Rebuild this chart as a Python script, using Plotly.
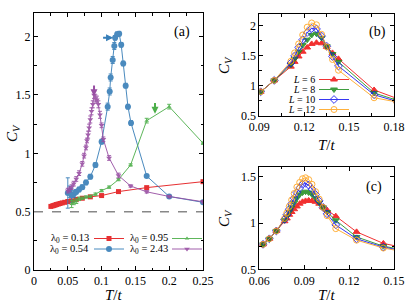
import plotly.graph_objects as go

# ---------------- Panel (a) data ----------------
T_red_a = [0.0250, 0.0278, 0.0294, 0.0313, 0.0333, 0.0357, 0.0385, 0.0417, 0.0455, 0.0500,
           0.0556, 0.0625, 0.0714, 0.0833, 0.1000, 0.1250, 0.1667, 0.2500]
C_red_a = [0.545, 0.550, 0.553, 0.557, 0.561, 0.565, 0.570, 0.575, 0.580, 0.587,
           0.593, 0.605, 0.615, 0.627, 0.638, 0.672, 0.706, 0.757]
E_red_a = [0.005] * 18

T_blue_a = [0.0500, 0.0526, 0.0556, 0.0588, 0.0625, 0.0667, 0.0714, 0.0769, 0.0833, 0.0909,
            0.1000, 0.1090, 0.1120, 0.1134, 0.1164, 0.1188, 0.1200, 0.1230, 0.1260, 0.1290,
            0.1320, 0.1356, 0.1390, 0.1435, 0.1667, 0.2000, 0.2500]
C_blue_a = [0.66, 0.67, 0.64, 0.65, 0.67, 0.69, 0.71, 0.75, 0.80, 0.90,
            1.10, 1.40, 1.53, 1.65, 1.80, 1.92, 1.99, 2.02, 2.025, 1.93,
            1.77, 1.58, 1.40, 1.26, 0.805, 0.63, 0.58]
E_blue_a = [0.13, 0.05, 0.06, 0.03, 0.02, 0.02, 0.02, 0.02, 0.02, 0.02,
            0.02, 0.03, 0.03, 0.03, 0.03, 0.03, 0.02, 0.02, 0.02, 0.02,
            0.02, 0.02, 0.02, 0.02, 0.01, 0.01, 0.01]

T_green_a = [0.0556, 0.0588, 0.0625, 0.0667, 0.0714, 0.0769, 0.0833, 0.0909, 0.1000, 0.1111,
             0.1250, 0.1429, 0.1667, 0.2000, 0.2500]
C_green_a = [0.565, 0.58, 0.59, 0.61, 0.615, 0.625, 0.63, 0.65, 0.68, 0.71,
             0.775, 0.90, 1.28, 1.40, 1.087]
E_green_a = [0.03, 0.02, 0.02, 0.015, 0.01, 0.01, 0.01, 0.01, 0.01, 0.01,
             0.01, 0.01, 0.02, 0.02, 0.01]

T_purple_a = [0.0500, 0.0526, 0.0556, 0.0588, 0.0625, 0.0667, 0.0714, 0.0741, 0.0769, 0.0784,
              0.0800, 0.0816, 0.0833, 0.0851, 0.0870, 0.0889, 0.0909, 0.0930, 0.0952, 0.0976,
              0.1000, 0.1026, 0.1111, 0.1250, 0.1429, 0.1667, 0.2000, 0.2500]
C_purple_a = [0.68, 0.69, 0.71, 0.74, 0.78, 0.83, 0.91, 0.98, 1.05, 1.11,
              1.16, 1.22, 1.29, 1.36, 1.42, 1.50, 1.47, 1.46, 1.42, 1.33,
              1.24, 1.12, 0.96, 0.81, 0.72, 0.67, 0.63, 0.585]
E_purple_a = [0.02, 0.02, 0.02, 0.02, 0.02, 0.02, 0.02, 0.02, 0.02, 0.02,
              0.03, 0.03, 0.03, 0.03, 0.03, 0.03, 0.03, 0.03, 0.03, 0.03,
              0.02, 0.02, 0.02, 0.02, 0.01, 0.01, 0.01, 0.01]

labels_a = ["λ<sub>0</sub> = 0.13", "λ<sub>0</sub> = 0.54", "λ<sub>0</sub> = 0.95", "λ<sub>0</sub> = 2.43"]
baseline_value = 0.5

# arrows in panel (a): (tip T, tip C, tail T, tail C)
arrow_blue = (0.117, 1.99, 0.100, 1.99)
arrow_purple = (0.0888, 1.49, 0.0888, 1.595)
arrow_green = (0.179, 1.34, 0.179, 1.445)

# ---------------- Panel (b) data ----------------
T_b = [0.0909, 0.1000, 0.1111, 0.1136, 0.1163, 0.1190, 0.1220, 0.1250, 0.1282, 0.1316,
       0.1351, 0.1389, 0.1429, 0.1667, 0.1818]
C_b_L6 = [0.90, 1.09, 1.32, 1.40, 1.49, 1.57, 1.64, 1.70, 1.72, 1.71, 1.65, 1.55, 1.45, 0.93, 0.79]
C_b_L8 = [0.90, 1.09, 1.35, 1.45, 1.57, 1.68, 1.77, 1.85, 1.87, 1.80, 1.66, 1.53, 1.40, 0.88, 0.76]
C_b_L10 = [0.90, 1.09, 1.38, 1.50, 1.64, 1.77, 1.89, 1.96, 1.95, 1.83, 1.66, 1.49, 1.33, 0.85, 0.74]
C_b_L12 = [0.90, 1.09, 1.41, 1.55, 1.70, 1.85, 1.98, 2.05, 2.02, 1.86, 1.65, 1.44, 1.26, 0.80, 0.73]

# ---------------- Panel (c) data ----------------
T_c = [0.0625, 0.0667, 0.0714, 0.0769, 0.0784, 0.0800, 0.0816, 0.0833, 0.0851, 0.0870, 0.0889,
       0.0909, 0.0930, 0.0952, 0.0976, 0.1000, 0.1026, 0.1053, 0.1111, 0.1250, 0.1429, 0.1667]
C_c_L6 = [0.77, 0.83, 0.915, 1.02, 1.05, 1.09, 1.12, 1.15, 1.18, 1.21, 1.23,
          1.24, 1.245, 1.24, 1.23, 1.21, 1.17, 1.14, 1.075, 0.905, 0.78, 0.70]
C_c_L8 = [0.77, 0.83, 0.915, 1.03, 1.07, 1.12, 1.17, 1.22, 1.27, 1.31, 1.33,
          1.34, 1.33, 1.31, 1.27, 1.22, 1.17, 1.12, 1.03, 0.85, 0.75, 0.68]
C_c_L10 = [0.77, 0.83, 0.915, 1.04, 1.09, 1.15, 1.21, 1.27, 1.33, 1.38, 1.42,
           1.43, 1.41, 1.37, 1.31, 1.24, 1.17, 1.10, 0.98, 0.83, 0.74, 0.67]
C_c_L12 = [0.77, 0.83, 0.915, 1.05, 1.11, 1.18, 1.25, 1.32, 1.39, 1.44, 1.48,
           1.49, 1.47, 1.42, 1.34, 1.26, 1.17, 1.08, 0.94, 0.815, 0.73, 0.66]

labels_L = ["<i>L</i> = 6", "<i>L</i> = 8", "<i>L</i> = 10", "<i>L</i> = 12"]

# ---------------- styles ----------------
FONT = "Liberation Serif, DejaVu Serif, serif"
W, H = 415, 307
col_a = ["#e41a1c", "#377eb8", "#4daf4a", "#984ea3"]
sym_a = ["square", "circle", "triangle-up", "triangle-down"]
size_a = [5, 6, 4, 5]
col_L = ["#f01010", "#1e8c1e", "#1515f0", "#ffa319"]
sym_L = ["triangle-up", "triangle-down", "diamond-open-dot", "circle-open"]

fig = go.Figure()

# legend slots: (legend id, legend-box left px, label right-edge px, row-center px y)
leg_slots_a = [("legend", 89, 91, 238.5), ("legend2", 89, 91, 249),
               ("legend3", 167, 170, 238.5), ("legend4", 167, 170, 249)]
leg_slots_b = [("legend5", 314, 317, 79.5), ("legend6", 314, 317, 89.5),
               ("legend7", 314, 317, 99.5), ("legend8", 314, 317, 109.5)]

series_a = [(T_red_a, C_red_a, E_red_a), (T_blue_a, C_blue_a, E_blue_a),
            (T_green_a, C_green_a, E_green_a), (T_purple_a, C_purple_a, E_purple_a)]
for i, (tx, cy, ee) in enumerate(series_a):
    fig.add_trace(go.Scatter(
        x=tx, y=cy, mode="lines+markers", name=" ", legend=leg_slots_a[i][0],
        line=dict(color=col_a[i], width=1),
        marker=dict(symbol=sym_a[i], size=size_a[i], color=col_a[i]),
        error_y=dict(type="data", array=ee, color=col_a[i], thickness=1, width=2),
        xaxis="x", yaxis="y", opacity=0.9))

series_b = [C_b_L6, C_b_L8, C_b_L10, C_b_L12]
series_c = [C_c_L6, C_c_L8, C_c_L10, C_c_L12]
for i in range(4):
    fig.add_trace(go.Scatter(
        x=T_b, y=series_b[i], mode="lines+markers", name=" ", legend=leg_slots_b[i][0],
        line=dict(color=col_L[i], width=1),
        marker=dict(symbol=sym_L[i], size=6, color=col_L[i], line=dict(color=col_L[i], width=1)),
        xaxis="x2", yaxis="y2", opacity=0.85))
for i in range(4):
    fig.add_trace(go.Scatter(
        x=T_c, y=series_c[i], mode="lines+markers", showlegend=False,
        line=dict(color=col_L[i], width=1),
        marker=dict(symbol=sym_L[i], size=6, color=col_L[i], line=dict(color=col_L[i], width=1)),
        xaxis="x3", yaxis="y3", opacity=0.85))

# reference line
fig.add_shape(type="line", xref="x domain", yref="y", x0=0, x1=1, y0=baseline_value, y1=baseline_value,
              line=dict(color="#888888", width=1.5, dash="dash"))

def axstyle(**kw):
    d = dict(showline=True, linecolor="black", linewidth=1, mirror="allticks", ticks="inside",
             ticklen=4, tickcolor="black", showgrid=False, zeroline=False,
             tickfont=dict(family=FONT, size=12, color="black"), automargin=False)
    d.update(kw)
    return d

def minor(dt, t0):
    return dict(dtick=dt, tick0=t0, ticks="inside", ticklen=2.5, tickcolor="black", showgrid=False)

fig.update_layout(
    width=W, height=H, margin=dict(l=0, r=0, t=0, b=0),
    paper_bgcolor="white", plot_bgcolor="white",
    font=dict(family=FONT, size=12, color="black"),
    xaxis=axstyle(domain=[34/W, 203/W], range=[0, 0.25], anchor="y",
                  tickvals=[0, 0.05, 0.1, 0.15, 0.2, 0.25], ticktext=["0", "0.05", "0.1", "0.15", "0.2", "0.25"],
                  minor=minor(0.025, 0)),
    yaxis=axstyle(domain=[1-270/H, 1-13.3/H], range=[0, 2.2], anchor="x",
                  tickvals=[0, 0.5, 1, 1.5, 2], ticktext=["0", "0.5", "1", "1.5", "2"],
                  minor=minor(0.25, 0)),
    xaxis2=axstyle(domain=[259.3/W, 394/W], range=[0.09, 0.18], anchor="y2",
                   tickvals=[0.09, 0.12, 0.15, 0.18], ticktext=["0.09", "0.12", "0.15", "0.18"],
                   minor=minor(0.015, 0.09)),
    yaxis2=axstyle(domain=[1-115.7/H, 1-14/H], range=[0.5, 2.2], anchor="x2",
                   tickvals=[0.5, 1, 1.5, 2], ticktext=["0.5", "1", "1.5", "2"],
                   minor=minor(0.25, 0.5)),
    xaxis3=axstyle(domain=[259.3/W, 394/W], range=[0.06, 0.15], anchor="y3",
                   tickvals=[0.06, 0.09, 0.12, 0.15], ticktext=["0.06", "0.09", "0.12", "0.15"],
                   minor=minor(0.015, 0.06)),
    yaxis3=axstyle(domain=[1-269.3/H, 1-166.7/H], range=[0.5, 1.61], anchor="x3",
                   tickvals=[0.5, 1, 1.5], ticktext=["0.5", "1", "1.5"],
                   minor=minor(0.25, 0.5)),
)

# legends, one per entry (positioned precisely)
for lid, left, tr, cy in leg_slots_a + leg_slots_b:
    fig.update_layout({lid: dict(x=left / W, y=1 - (cy - 14.5) / H, xanchor="left", yanchor="top",
                                 bgcolor="rgba(0,0,0,0)", borderwidth=0, itemwidth=30,
                                 font=dict(family=FONT, size=10))})

ann = []
def txt(x, y, s, size=12, xanchor="center", angle=0):
    ann.append(dict(x=x / W, y=1 - y / H, xref="paper", yref="paper", text=s, showarrow=False,
                    xanchor=xanchor, yanchor="middle", textangle=angle,
                    font=dict(family=FONT, size=size, color="black")))

# axis titles
txt(114, 295, "<i>T</i>/<i>t</i>", 15)
txt(13, 133, "<i>C<sub>V</sub></i>", 15, angle=-90)
txt(327, 145, "<i>T</i>/<i>t</i>", 15)
txt(225, 65, "<i>C<sub>V</sub></i>", 15, angle=-90)
txt(327, 295, "<i>T</i>/<i>t</i>", 15)
txt(225, 218, "<i>C<sub>V</sub></i>", 15, angle=-90)
# panel tags
txt(182, 32, "(a)", 14)
txt(377, 32, "(b)", 14)
txt(374, 187, "(c)", 14)
# legend texts
for (lid, left, tr, cy), s in zip(leg_slots_a, labels_a):
    txt(tr, cy, s, 10.5, xanchor="right")
for (lid, left, tr, cy), s in zip(leg_slots_b, labels_L):
    txt(tr, cy, s, 10, xanchor="right")

# arrows
for (tx, ty, sx, sy), c in zip([arrow_blue, arrow_purple, arrow_green], [col_a[1], col_a[3], col_a[2]]):
    ann.append(dict(x=tx, y=ty, ax=sx, ay=sy, xref="x", yref="y", axref="x", ayref="y",
                    showarrow=True, arrowhead=2, arrowsize=0.7, arrowwidth=2, arrowcolor=c, text=""))

fig.update_layout(annotations=ann)
fig.write_html("out.html", config={"displayModeBar": False},
               post_script="document.body.style.margin='0px';document.body.style.overflow='hidden';")
